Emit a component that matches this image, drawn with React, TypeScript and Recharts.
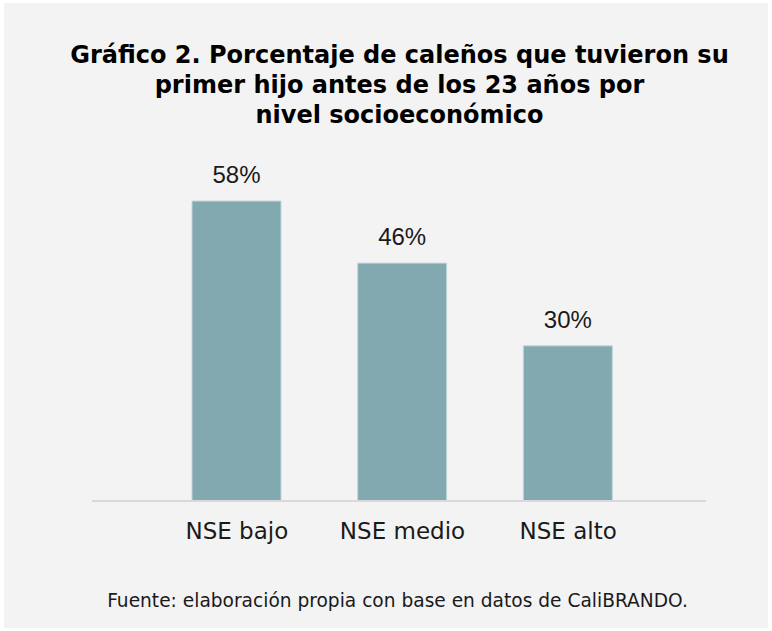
import React from 'react';
import { BarChart, Bar, XAxis, YAxis, LabelList } from 'recharts';

const categories = ['NSE bajo', 'NSE medio', 'NSE alto'];
const values = [58, 46, 30];
const titleLines = [
  'Gráfico 2. Porcentaje de caleños que tuvieron su',
  'primer hijo antes de los 23 años por',
  'nivel socioeconómico',
];
const sourceText = 'Fuente: elaboración propia con base en datos de CaliBRANDO.';

const data = categories.map((c, i) => ({ name: c, value: values[i] }));

const W = 764;
const H = 625;

export default function App() {
  return (
    <div style={{ position: 'absolute', left: 4, top: 3, width: W, height: H, background: '#f3f3f3' }}>
      <BarChart
        width={W}
        height={H}
        data={data}
        margin={{ top: 136, right: 62, bottom: 87, left: 88 }}
      >
        <YAxis hide domain={[0, 70]} />
        <XAxis
          dataKey="name"
          axisLine={{ stroke: '#d9d9d9', strokeWidth: 2 }}
          tickLine={false}
          tickSize={0}
          tickMargin={22}
          height={40}
          padding={{ left: 62, right: 55 }}
          interval={0}
          tick={{ fill: '#1a1a1a', fontSize: 23, fontFamily: 'DejaVu Sans' }}
        />
        <Bar dataKey="value" barSize={89} fill="#82a9af" stroke="#c3d6d9" strokeWidth={1} isAnimationActive={false}>
          <LabelList
            dataKey="value"
            position="top"
            offset={18}
            formatter={(v: any) => `${v}%`}
            style={{ fill: '#1a1a1a', fontSize: 24, fontFamily: 'Liberation Sans' }}
          />
        </Bar>
      </BarChart>
      <svg width={W} height={H} style={{ position: 'absolute', left: 0, top: 0, pointerEvents: 'none' }}>
        {titleLines.map((t, i) => (
          <text
            key={i}
            x={395.5}
            y={60 + i * 30}
            textAnchor="middle"
            fontFamily="DejaVu Sans"
            fontWeight={700}
            fontSize={24}
            fill="#000"
          >
            {t}
          </text>
        ))}
        <text x={393.5} y={604} textAnchor="middle" fontFamily="DejaVu Sans" fontSize={18.6} fill="#1a1a1a">
          {sourceText}
        </text>
      </svg>
    </div>
  );
}
